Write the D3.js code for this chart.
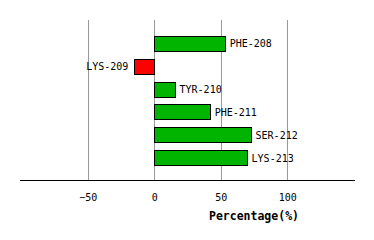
<!DOCTYPE html>
<html>
<head>
<meta charset="utf-8">
<script src="https://cdn.jsdelivr.net/npm/d3@7"></script>
<style>
  body { margin: 0; background: #fff; }
  svg { display: block; }
</style>
</head>
<body>
<div id="chart"></div>
<script>
// residue labels and their percentage values
const residues = ['PHE-208', 'LYS-209', 'TYR-210', 'PHE-211', 'SER-212', 'LYS-213'];
const percentages = [53.7, -15, 16, 42.4, 73.2, 70.2];
const tickValues = [-50, 0, 50, 100];

const width = 374;
const height = 240;

const svg = d3.select('#chart')
  .append('svg')
  .attr('width', width)
  .attr('height', height);

const x = d3.scaleLinear().domain([-101, 151]).range([20, 355]);
const y = d3.scaleBand()
  .domain(residues)
  .range([32, 169])
  .paddingInner(0.34)
  .paddingOuter(0.17);

const axisY = 180.5;

// vertical grid lines
svg.append('g')
  .selectAll('line')
  .data(tickValues)
  .join('line')
  .attr('x1', d => Math.round(x(d)) + 0.5)
  .attr('x2', d => Math.round(x(d)) + 0.5)
  .attr('y1', 20)
  .attr('y2', axisY)
  .attr('stroke', '#999')
  .attr('stroke-width', 1);

// bottom axis, no tick marks
const axis = svg.append('g')
  .attr('transform', `translate(0,${axisY})`)
  .call(d3.axisBottom(x).tickValues(tickValues).tickSize(0).tickPadding(13).tickFormat(d3.format('d')));
axis.select('.domain').attr('stroke', '#000').attr('d', `M${x.range()[0]},0H${x.range()[1]}`);
axis.selectAll('text')
  .attr('font-family', '"DejaVu Sans Mono", monospace')
  .attr('font-size', '10px')
  .attr('fill', '#000')
  .text(d => d < 0 ? '\u2212' + Math.abs(d) : d);

// bars
const data = residues.map((r, i) => ({ name: r, value: percentages[i] }));

svg.append('g')
  .selectAll('rect')
  .data(data)
  .join('rect')
  .attr('x', d => Math.round(x(Math.min(0, d.value))) + 0.5)
  .attr('y', d => Math.round(y(d.name)) + 0.5)
  .attr('width', d => Math.round(Math.abs(x(d.value) - x(0))))
  .attr('height', Math.round(y.bandwidth()))
  .attr('fill', d => d.value < 0 ? '#ff0000' : '#00b400')
  .attr('stroke', '#000')
  .attr('stroke-width', 1);

// bar labels
svg.append('g')
  .selectAll('text')
  .data(data)
  .join('text')
  .attr('x', d => d.value < 0 ? x(d.value) - 6 : x(d.value) + 4)
  .attr('y', d => y(d.name) + y.bandwidth() / 2 + 0.5)
  .attr('dy', '0.35em')
  .attr('text-anchor', d => d.value < 0 ? 'end' : 'start')
  .attr('font-family', '"DejaVu Sans Mono", monospace')
  .attr('font-size', '10px')
  .attr('fill', '#000')
  .text(d => d.name);

// axis title
svg.append('text')
  .attr('x', 254)
  .attr('y', 219.5)
  .attr('text-anchor', 'middle')
  .attr('font-family', '"DejaVu Sans Mono", monospace')
  .attr('font-weight', 'bold')
  .attr('font-size', '11.5px')
  .attr('fill', '#000')
  .text('Percentage(%)');
</script>
</body>
</html>
